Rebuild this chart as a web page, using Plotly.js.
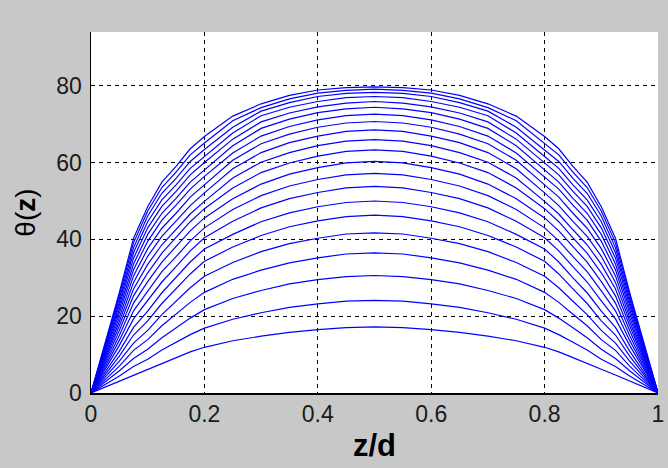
<!DOCTYPE html>
<html>
<head>
<meta charset="utf-8">
<script src="https://cdn.plot.ly/plotly-3.0.1.min.js"></script>
<style>html,body{margin:0;padding:0;background:#c8c8c8;}#chart{width:668px;height:468px;}</style>
</head>
<body>
<div id="chart"></div>
<script>
// z/d sample positions
var zd = [0, 0.05, 0.075, 0.1, 0.125, 0.15, 0.175, 0.2, 0.25, 0.3, 0.35, 0.4, 0.45, 0.5,
          0.55, 0.6, 0.65, 0.7, 0.75, 0.8, 0.825, 0.85, 0.875, 0.9, 0.925, 0.95, 1];

// theta(z) profiles, one per curve (lowest to highest)
var theta01 = [0, 3.1, 4.7, 6.2, 7.8, 9.2, 10.7, 11.9, 13.6, 14.8, 15.8, 16.5, 17.0, 17.2, 17.0, 16.5, 15.8, 14.8, 13.6, 11.9, 10.7, 9.2, 7.8, 6.2, 4.7, 3.1, 0];
var theta02 = [0, 4.4, 6.9, 8.8, 11.2, 13.2, 15.2, 16.9, 19.2, 20.9, 22.3, 23.2, 23.9, 24.1, 23.9, 23.2, 22.3, 20.9, 19.2, 16.9, 15.2, 13.2, 11.2, 8.8, 6.9, 4.4, 0];
var theta03 = [0, 5.8, 9.0, 11.4, 14.4, 17.0, 19.5, 21.7, 24.6, 26.7, 28.4, 29.5, 30.3, 30.6, 30.3, 29.5, 28.4, 26.7, 24.6, 21.7, 19.5, 17.0, 14.4, 11.4, 9.0, 5.8, 0];
var theta04 = [0, 7.0, 11.1, 13.9, 17.5, 20.5, 23.6, 26.2, 29.6, 32.0, 33.9, 35.2, 36.2, 36.5, 36.2, 35.2, 33.9, 32.0, 29.6, 26.2, 23.6, 20.5, 17.5, 13.9, 11.1, 7.0, 0];
var theta05 = [0, 8.3, 13.0, 16.3, 20.4, 23.9, 27.4, 30.4, 34.0, 36.8, 38.9, 40.3, 41.4, 41.7, 41.4, 40.3, 38.9, 36.8, 34.0, 30.4, 27.4, 23.9, 20.4, 16.3, 13.0, 8.3, 0];
var theta06 = [0, 9.6, 15.1, 18.8, 23.3, 27.1, 31.0, 34.3, 38.0, 41.0, 43.3, 44.8, 45.9, 46.3, 45.9, 44.8, 43.3, 41.0, 38.0, 34.3, 31.0, 27.1, 23.3, 18.8, 15.1, 9.6, 0];
var theta07 = [0, 10.9, 17.1, 21.3, 26.1, 30.0, 34.1, 37.5, 41.3, 44.6, 46.9, 48.5, 49.6, 50.0, 49.6, 48.5, 46.9, 44.6, 41.3, 37.5, 34.1, 30.0, 26.1, 21.3, 17.1, 10.9, 0];
var theta08 = [0, 12.4, 19.3, 24.0, 28.9, 32.9, 37.0, 40.4, 44.7, 48.2, 50.6, 52.2, 53.4, 53.8, 53.4, 52.2, 50.6, 48.2, 44.7, 40.4, 37.0, 32.9, 28.9, 24.0, 19.3, 12.4, 0];
var theta09 = [0, 13.7, 21.4, 26.6, 31.6, 35.5, 39.6, 43.0, 47.8, 51.4, 53.9, 55.6, 56.8, 57.2, 56.8, 55.6, 53.9, 51.4, 47.8, 43.0, 39.6, 35.5, 31.6, 26.6, 21.4, 13.7, 0];
var theta10 = [0, 15.0, 23.4, 29.0, 34.1, 38.1, 42.2, 45.6, 50.6, 54.4, 57.0, 58.7, 59.9, 60.3, 59.9, 58.7, 57.0, 54.4, 50.6, 45.6, 42.2, 38.1, 34.1, 29.0, 23.4, 15.0, 0];
var theta11 = [0, 16.3, 25.3, 31.3, 36.4, 40.4, 44.6, 48.0, 53.4, 57.4, 59.9, 61.7, 62.9, 63.3, 62.9, 61.7, 59.9, 57.4, 53.4, 48.0, 44.6, 40.4, 36.4, 31.3, 25.3, 16.3, 0];
var theta12 = [0, 17.5, 27.1, 33.5, 38.6, 42.5, 46.6, 49.9, 56.0, 60.1, 62.6, 64.4, 65.6, 66.0, 65.6, 64.4, 62.6, 60.1, 56.0, 49.9, 46.6, 42.5, 38.6, 33.5, 27.1, 17.5, 0];
var theta13 = [0, 18.6, 28.8, 35.6, 40.8, 44.7, 48.8, 52.1, 58.4, 62.6, 65.2, 66.9, 68.1, 68.5, 68.1, 66.9, 65.2, 62.6, 58.4, 52.1, 48.8, 44.7, 40.8, 35.6, 28.8, 18.6, 0];
var theta14 = [0, 19.7, 30.5, 37.6, 42.9, 46.8, 51.0, 54.2, 60.6, 64.9, 67.4, 69.2, 70.3, 70.7, 70.3, 69.2, 67.4, 64.9, 60.6, 54.2, 51.0, 46.8, 42.9, 37.6, 30.5, 19.7, 0];
var theta15 = [0, 20.8, 32.1, 39.5, 45.0, 48.9, 53.1, 56.4, 62.5, 66.9, 69.4, 71.1, 72.2, 72.6, 72.2, 71.1, 69.4, 66.9, 62.5, 56.4, 53.1, 48.9, 45.0, 39.5, 32.1, 20.8, 0];
var theta16 = [0, 21.8, 33.6, 41.3, 46.8, 50.7, 54.9, 58.1, 64.4, 68.9, 71.3, 73.0, 74.0, 74.4, 74.0, 73.0, 71.3, 68.9, 64.4, 58.1, 54.9, 50.7, 46.8, 41.3, 33.6, 21.8, 0];
var theta17 = [0, 22.8, 35.1, 43.0, 48.6, 52.5, 56.8, 60.0, 66.1, 70.6, 72.9, 74.5, 75.5, 75.9, 75.5, 74.5, 72.9, 70.6, 66.1, 60.0, 56.8, 52.5, 48.6, 43.0, 35.1, 22.8, 0];
var theta18 = [0, 23.7, 36.5, 44.6, 50.3, 54.2, 58.5, 61.6, 67.7, 72.2, 74.4, 75.9, 76.9, 77.2, 76.9, 75.9, 74.4, 72.2, 67.7, 61.6, 58.5, 54.2, 50.3, 44.6, 36.5, 23.7, 0];
var theta19 = [0, 24.6, 37.8, 46.1, 52.0, 55.9, 60.3, 63.4, 69.2, 73.4, 75.6, 77.2, 78.0, 78.3, 78.0, 77.2, 75.6, 73.4, 69.2, 63.4, 60.3, 55.9, 52.0, 46.1, 37.8, 24.6, 0];
var theta20 = [0, 25.5, 39.1, 47.4, 53.5, 57.5, 62.0, 65.1, 70.9, 74.3, 76.6, 78.1, 78.8, 79.1, 78.8, 78.1, 76.6, 74.3, 70.9, 65.1, 62.0, 57.5, 53.5, 47.4, 39.1, 25.5, 0];
var theta21 = [0, 26.2, 40.3, 48.5, 54.9, 59.0, 63.6, 66.8, 72.1, 75.3, 77.5, 78.9, 79.5, 79.7, 79.5, 78.9, 77.5, 75.3, 72.1, 66.8, 63.6, 59.0, 54.9, 48.5, 40.3, 26.2, 0];

var xTicks = [0, 0.2, 0.4, 0.6, 0.8, 1];
var xTickText = ['0', '0.2', '0.4', '0.6', '0.8', '1'];
var yTicks = [0, 20, 40, 60, 80];
var yTickText = ['0', '20', '40', '60', '80'];

var profiles = [theta01, theta02, theta03, theta04, theta05, theta06, theta07, theta08, theta09, theta10,
                theta11, theta12, theta13, theta14, theta15, theta16, theta17, theta18, theta19, theta20, theta21];

var traces = profiles.map(function (p) {
  return {x: zd, y: p, type: 'scatter', mode: 'lines',
          line: {color: '#0000ff', width: 1.2}, hoverinfo: 'skip', showlegend: false};
});

var fontFam = 'Liberation Sans, Arial, sans-serif';
var layout = {
  width: 668, height: 468,
  paper_bgcolor: '#c8c8c8', plot_bgcolor: '#ffffff',
  margin: {l: 91, r: 10, t: 32, b: 75, pad: 0},
  showlegend: false,
  xaxis: {
    range: [0, 1], tickvals: xTicks, ticktext: xTickText,
    showgrid: true, gridcolor: '#000000', griddash: '4px,4px', gridwidth: 1,
    zeroline: false, showline: true, linecolor: '#000000', linewidth: 1.5,
    ticks: '', ticklabelstandoff: 0,
    tickfont: {family: fontFam, size: 23, color: '#1a1a1a'},
    title: {text: '<b>z/d</b>', font: {family: fontFam, size: 31, color: '#000000'}, standoff: 8}
  },
  yaxis: {
    range: [0, 94], tickvals: yTicks, ticktext: yTickText,
    showgrid: true, gridcolor: '#000000', griddash: '4px,4px', gridwidth: 1,
    zeroline: false, showline: true, linecolor: '#000000', linewidth: 1.5,
    ticks: '', ticklabelstandoff: 3,
    tickfont: {family: fontFam, size: 23, color: '#1a1a1a'},
    title: {text: 'θ(<b>z</b>)', font: {family: fontFam, size: 28, color: '#000000'}, standoff: 12}
  }
};

Plotly.newPlot('chart', traces, layout, {staticPlot: true, displayModeBar: false});
</script>
</body>
</html>
